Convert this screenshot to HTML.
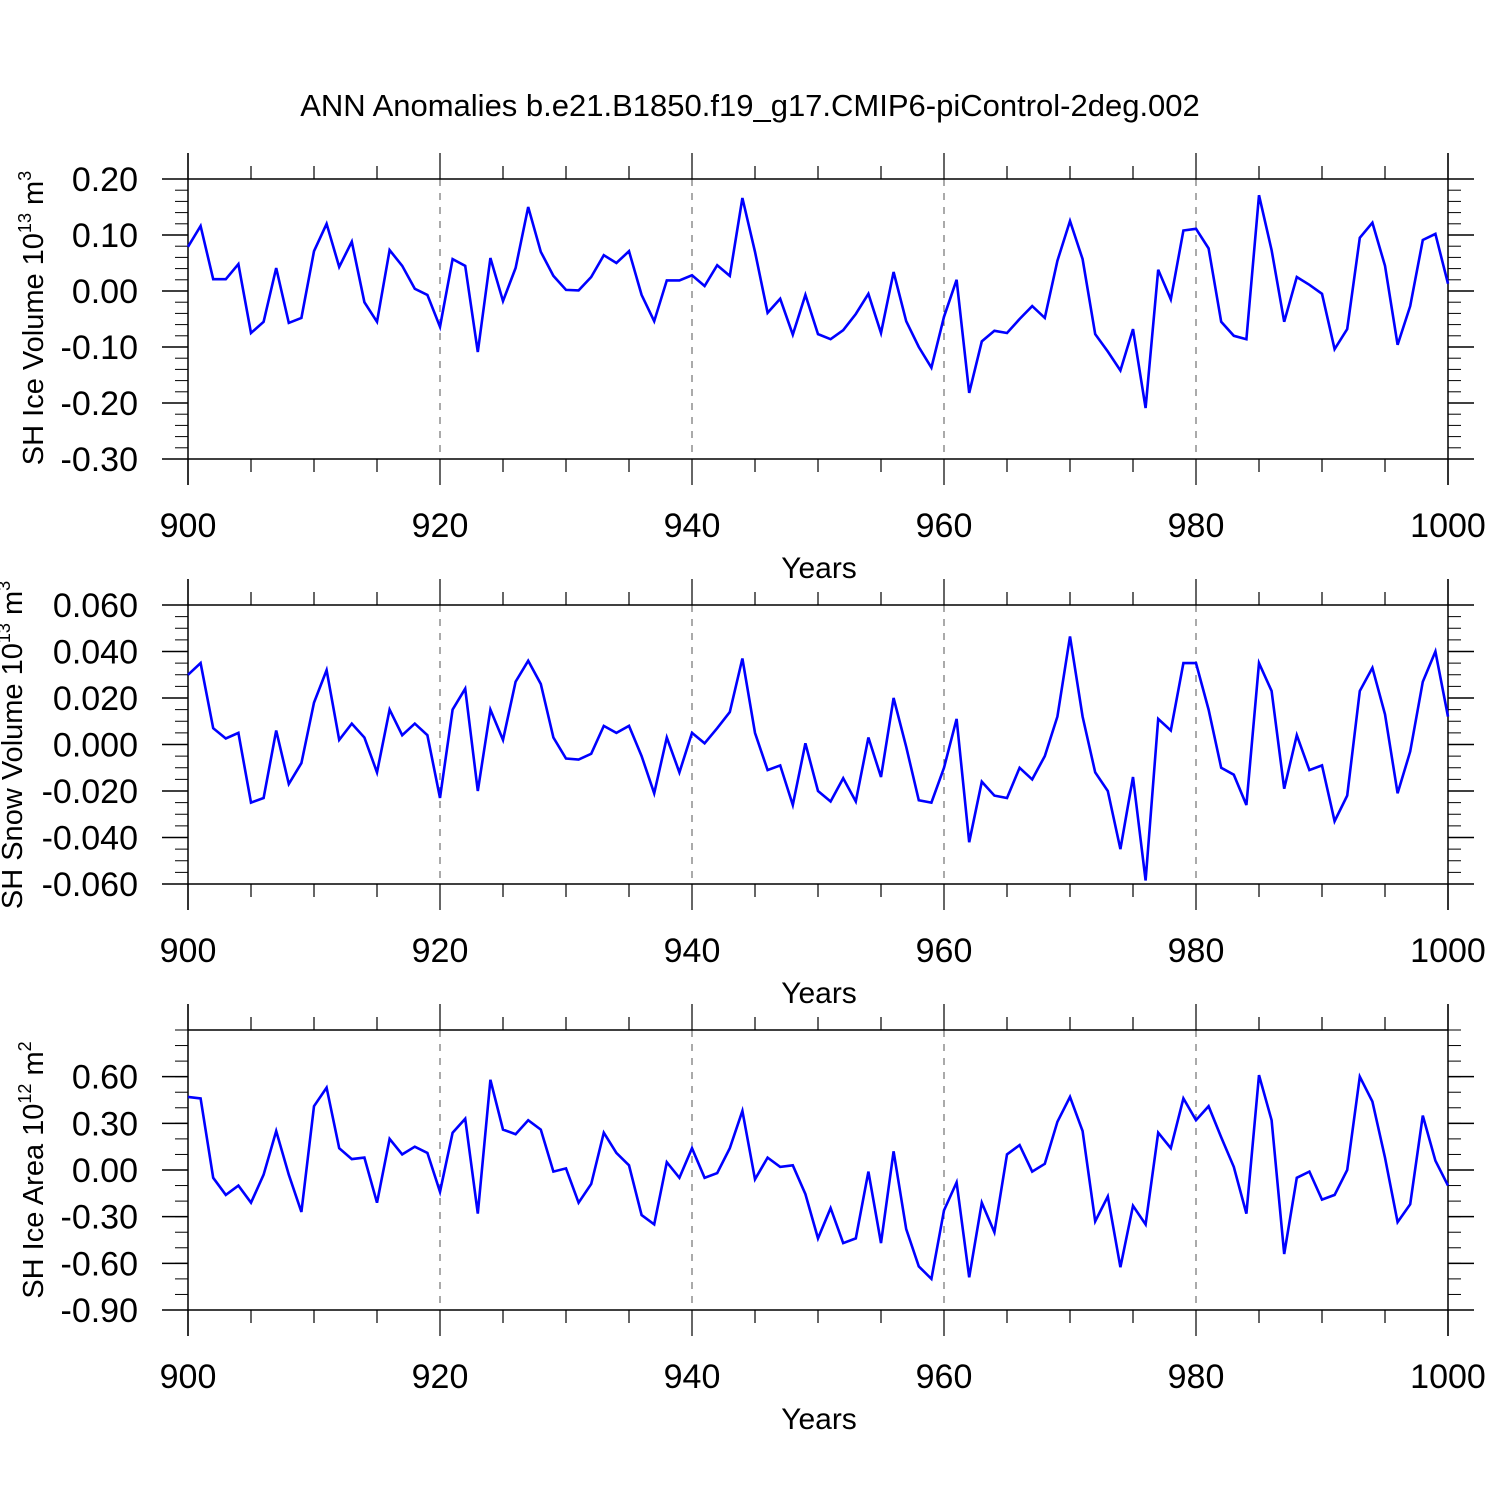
<!DOCTYPE html>
<html><head><meta charset="utf-8"><style>
html,body{margin:0;padding:0;background:#fff;}
svg{display:block;font-family:"Liberation Sans",sans-serif;}
</style></head><body>
<svg id="chart" width="1500" height="1500" viewBox="0 0 1500 1500" xmlns="http://www.w3.org/2000/svg">
<text x="750" y="116" font-size="31" text-anchor="middle">ANN Anomalies b.e21.B1850.f19_g17.CMIP6-piControl-2deg.002</text>
</svg>
<script>
const years = Array.from({length:101},(_,i)=>900+i);
const iceVolume = [0.079,0.116,0.021,0.021,0.048,-0.075,-0.055,0.041,-0.057,-0.048,
0.071,0.12,0.043,0.088,-0.02,-0.055,0.073,0.045,0.004,-0.007,
-0.064,0.057,0.045,-0.109,0.059,-0.018,0.041,0.15,0.07,0.027,
0.002,0.001,0.025,0.064,0.05,0.071,-0.007,-0.054,0.019,0.019,
0.028,0.009,0.046,0.027,0.166,0.07,-0.039,-0.014,-0.078,-0.007,
-0.077,-0.086,-0.07,-0.041,-0.005,-0.075,0.034,-0.054,-0.1,-0.137,
-0.046,0.02,-0.182,-0.09,-0.071,-0.075,-0.05,-0.027,-0.048,0.054,
0.125,0.057,-0.077,-0.108,-0.142,-0.068,-0.209,0.038,-0.015,0.108,
0.111,0.076,-0.055,-0.08,-0.086,0.171,0.073,-0.055,0.025,0.011,
-0.005,-0.104,-0.068,0.095,0.122,0.045,-0.096,-0.027,0.091,0.102,0.013];
const snowVolume = [0.030,0.035,0.007,0.0026,0.005,-0.025,-0.023,0.006,-0.017,-0.008,
0.018,0.032,0.002,0.009,0.003,-0.012,0.015,0.004,0.009,0.004,
-0.023,0.015,0.024,-0.02,0.015,0.002,0.027,0.036,0.026,0.003,
-0.006,-0.0065,-0.004,0.008,0.005,0.008,-0.005,-0.021,0.003,-0.012,
0.005,0.0005,0.007,0.014,0.037,0.005,-0.011,-0.009,-0.026,0.0005,
-0.02,-0.0245,-0.0145,-0.0245,0.003,-0.014,0.02,-0.001,-0.024,-0.025,
-0.01,0.011,-0.042,-0.016,-0.022,-0.023,-0.01,-0.015,-0.005,0.012,
0.0465,0.012,-0.012,-0.02,-0.045,-0.014,-0.0585,0.011,0.006,0.035,
0.035,0.015,-0.01,-0.013,-0.026,0.035,0.023,-0.019,0.004,-0.011,
-0.009,-0.033,-0.022,0.023,0.033,0.013,-0.021,-0.003,0.027,0.04,0.012];
const iceArea = [0.47,0.46,-0.05,-0.16,-0.10,-0.21,-0.03,0.25,-0.03,-0.27,
0.41,0.53,0.14,0.07,0.08,-0.21,0.20,0.10,0.15,0.11,
-0.14,0.24,0.33,-0.28,0.58,0.26,0.23,0.32,0.26,-0.01,
0.01,-0.21,-0.09,0.24,0.11,0.03,-0.29,-0.35,0.05,-0.05,
0.14,-0.05,-0.02,0.14,0.38,-0.06,0.08,0.02,0.03,-0.155,
-0.44,-0.245,-0.47,-0.44,-0.01,-0.47,0.12,-0.38,-0.62,-0.70,
-0.26,-0.08,-0.69,-0.21,-0.40,0.10,0.16,-0.01,0.04,0.31,
0.47,0.25,-0.33,-0.17,-0.625,-0.23,-0.35,0.24,0.14,0.46,
0.32,0.41,0.21,0.02,-0.28,0.61,0.32,-0.54,-0.05,-0.01,
-0.19,-0.16,0.0,0.60,0.44,0.08,-0.335,-0.22,0.35,0.06,-0.10];
const xTickLabels = ["900","920","940","960","980","1000"];
const p1Ticks = ["0.20","0.10","0.00","-0.10","-0.20","-0.30"];
const p2Ticks = ["0.060","0.040","0.020","0.000","-0.020","-0.040","-0.060"];
const p3Ticks = ["0.60","0.30","0.00","-0.30","-0.60","-0.90"];

const NS="http://www.w3.org/2000/svg";
const svg=document.getElementById('chart');
const X0=188,X1=1448;
function xs(v){return X0+(v-900)/100*(X1-X0);}
function mk(tag,attrs,parent){const e=document.createElementNS(NS,tag);for(const k in attrs)e.setAttribute(k,attrs[k]);(parent||svg).appendChild(e);return e;}

function panel(o){
  const g=mk('g',{});
  
  
  const ys=v=>o.top+(o.ymax-v)/(o.ymax-o.ymin)*(o.bot-o.top);
  for(let yv=920;yv<=980;yv+=20){
    const l=mk('line',{x1:xs(yv),x2:xs(yv),y1:o.top,y2:o.bot,stroke:'#555','stroke-width':1,'stroke-dasharray':'7,7'},g);
    
    
  }
  mk('line',{x1:X0,x2:X1,y1:o.top,y2:o.top,stroke:'#000','stroke-width':1.5},g);
  mk('line',{x1:X0,x2:X1,y1:o.bot,y2:o.bot,stroke:'#000','stroke-width':1.5},g);
  mk('line',{x1:X0,x2:X0,y1:o.top-26,y2:o.bot+26,stroke:'#000','stroke-width':1.5},g);
  mk('line',{x1:X1,x2:X1,y1:o.top-26,y2:o.bot+26,stroke:'#000','stroke-width':1.5},g);
  for(let yv=900;yv<=1000;yv+=5){
    const len=(yv%20===0)?26:13;
    mk('line',{x1:xs(yv),x2:xs(yv),y1:o.top-len,y2:o.top,stroke:'#000','stroke-width':1.2},g);
    mk('line',{x1:xs(yv),x2:xs(yv),y1:o.bot,y2:o.bot+len,stroke:'#000','stroke-width':1.2},g);
  }
  xTickLabels.forEach(t=>{
    const e=mk('text',{x:xs(+t),y:o.bot+78,'font-size':34,'text-anchor':'middle'},g);
    e.textContent=t;
    
    
  });
  const xt=mk('text',{x:819,y:o.bot+119,'font-size':30,'text-anchor':'middle'},g);
  xt.textContent='Years';
  
  
  const n=Math.round((o.ymax-o.ymin)/o.minor);
  for(let i=0;i<=n;i++){
    const v=o.ymin+i*o.minor;const y=ys(v);
    mk('line',{x1:X0-13,x2:X0,y1:y,y2:y,stroke:'#000','stroke-width':1},g);
    mk('line',{x1:X1,x2:X1+13,y1:y,y2:y,stroke:'#000','stroke-width':1},g);
  }
  o.ticks.forEach(t=>{
    const y=ys(+t);
    mk('line',{x1:X0-26,x2:X0,y1:y,y2:y,stroke:'#000','stroke-width':1.5},g);
    mk('line',{x1:X1,x2:X1+26,y1:y,y2:y,stroke:'#000','stroke-width':1.5},g);
    const e=mk('text',{x:138,y:y+12,'font-size':34,'text-anchor':'end'},g);
    e.textContent=t;
    
    
  });
  const yt=mk('text',{transform:`translate(${o.lx},${o.ly}) rotate(-90)`,'font-size':29,'text-anchor':'middle'},g);
  
  
  const a=document.createElementNS(NS,'tspan');a.textContent=o.label+' 10';yt.appendChild(a);
  const b=document.createElementNS(NS,'tspan');b.setAttribute('dy','-12');b.setAttribute('font-size','18');b.textContent=o.exp;yt.appendChild(b);
  const c=document.createElementNS(NS,'tspan');c.setAttribute('dy','12');c.textContent=' m';yt.appendChild(c);
  const d=document.createElementNS(NS,'tspan');d.setAttribute('dy','-12');d.setAttribute('font-size','18');d.textContent=o.unitExp;yt.appendChild(d);
  const pts=o.data.map((v,i)=>xs(years[i]).toFixed(1)+','+ys(v).toFixed(1)).join(' ');
  const pl=mk('polyline',{points:pts,fill:'none',stroke:'#0000ff','stroke-width':2.6,'stroke-linejoin':'miter'},g);
  
  
}
panel({name:'ice-volume-panel',top:179,bot:459,ymin:-0.3,ymax:0.2,minor:0.02,ticks:p1Ticks,data:iceVolume,label:'SH Ice Volume',exp:'13',unitExp:'3',lx:43,ly:318});
panel({name:'snow-volume-panel',top:605,bot:884,ymin:-0.06,ymax:0.06,minor:0.005,ticks:p2Ticks,data:snowVolume,label:'SH Snow Volume',exp:'13',unitExp:'3',lx:22,ly:745});
panel({name:'ice-area-panel',top:1030,bot:1310,ymin:-0.9,ymax:0.9,minor:0.1,ticks:p3Ticks,data:iceArea,label:'SH Ice Area',exp:'12',unitExp:'2',lx:43,ly:1170});
</script>
</body></html>
